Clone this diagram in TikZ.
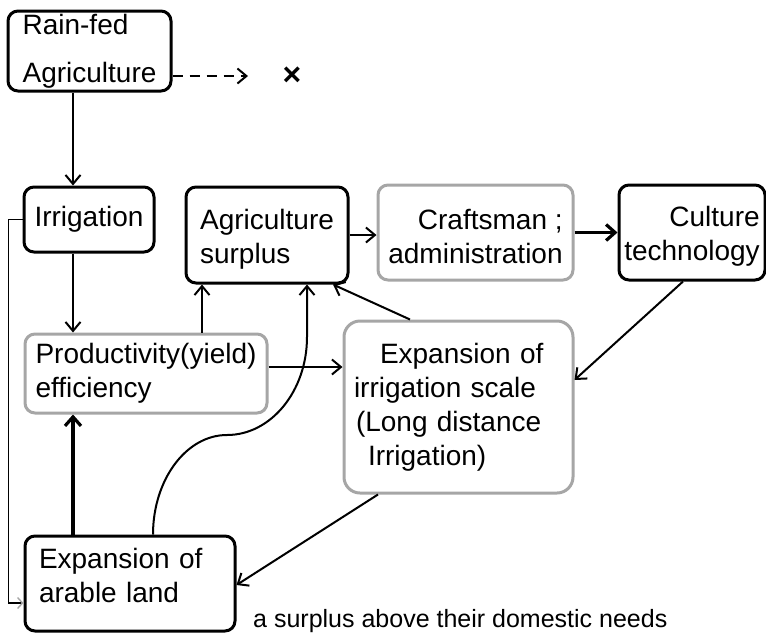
\documentclass[tikz,border=0pt]{standalone}
\usepackage{fontspec}
\setmainfont{Liberation Sans}
\usetikzlibrary{arrows.meta,calc}
\definecolor{boxgray}{HTML}{A6A6A6}
\begin{document}
\begin{tikzpicture}[x=1pt,y=-1pt,
  every node/.style={font=\fontsize{28pt}{34pt}\selectfont, inner sep=0pt},
  boxk/.style={draw=black, line width=3pt, rounded corners=10pt, fill=white},
  boxg/.style={draw=boxgray, line width=3pt, rounded corners=10pt, fill=white},
  conn/.style={line width=2pt, -{Straight Barb[length=9pt,width=15pt]}},
  heavy/.style={line width=3.2pt, -{Straight Barb[length=9pt,width=16pt]}},
  backloop/.style={line width=1.4pt, -{Straight Barb[length=5pt,width=11pt,color=boxgray]}}
]
\useasboundingbox (0,0) rectangle (766,633);

% boxes
\node[boxk, minimum width=163pt, minimum height=80pt, align=left,
      font=\fontsize{28pt}{48pt}\selectfont] (rain) at (89.5,51) {Rain-fed\\Agriculture};
\node[boxk, minimum width=130pt, minimum height=65pt] (irr) at (89,219.5) {Irrigation};
\node[boxk, minimum width=162pt, minimum height=96pt, align=left] (surp) at (267,235)
  {\mbox{}\\[-6pt]Agriculture\\surplus};
\node[boxg, minimum width=195pt, minimum height=95pt, align=right] (craft) at (475.5,232.5)
  {\mbox{}\\[-6pt]Craftsman ;\\administration};
\node[boxk, minimum width=146pt, minimum height=95pt, align=right] (cult) at (692,232.5)
  {\mbox{}\\[-6pt]Culture\\technology};
\node[boxg, minimum width=242pt, minimum height=79pt, align=left] (prod) at (146,373.5) {Productivity(yield)\\efficiency};
\node[boxg, rounded corners=16pt, minimum width=229pt, minimum height=172pt, text width=209pt, align=left] (expi) at (458.5,407)
  {\hspace*{26pt}Expansion of\\irrigation scale\\\hspace*{2pt}(Long distance\\\hspace*{14pt}Irrigation)};
\node[boxk, minimum width=210pt, minimum height=95pt, text width=182pt, align=left] (arab) at (130,583.5)
  {Expansion of\\arable land\\[-18pt]\mbox{}};

% free texts
\node[font=\fontsize{25pt}{30pt}\selectfont, anchor=base west] (note) at (253,627) {a surplus above their domestic needs};
\node[font=\bfseries\fontsize{32pt}{34pt}\selectfont] (xm) at (292,76) {×};
\coordinate (xtip) at (248,76);

% connectors
\draw[conn, dash pattern=on 10pt off 7pt] ([yshift=-25pt]rain.east) -- (xtip);
\draw[conn] ([xshift=-16.5pt]rain.south) -- ([xshift=-16.5pt]rain.south |- irr.north);
\draw[conn] ([xshift=-16pt]irr.south) -- ([xshift=-16pt]irr.south |- prod.north);
\draw[conn] ([xshift=56pt]prod.north) -- ([xshift=56pt]prod.north |- surp.south);
\draw[conn] ([yshift=6.5pt]prod.east) -- ([yshift=6.5pt]prod.east -| expi.west);
\draw[conn] (surp.east) -- (surp.east -| craft.west);
\draw[heavy] (craft.east) -- (craft.east -| cult.west);
\draw[conn] ([xshift=-9pt]cult.south) -- ([yshift=27pt]expi.east);
\draw[conn] ([xshift=-48.5pt]expi.north) -- ([xshift=66pt]surp.south);
\draw[conn] ([xshift=-80.5pt]expi.south) -- ([yshift=-1.5pt]arab.east);
\draw[heavy] ([xshift=-57pt]arab.north) -- ([xshift=-57pt]arab.north |- prod.south);
\draw[conn] ([xshift=23pt]arab.north) .. controls (153,480) and (186,435) .. (227,435)
  .. controls (271,435) and (307,391) .. (307,337) -- ([xshift=40pt]surp.south);
\draw[backloop] (irr.west) -- ++(-14,0) |- ([yshift=-19.5pt]arab.west);
\end{tikzpicture}
\end{document}
